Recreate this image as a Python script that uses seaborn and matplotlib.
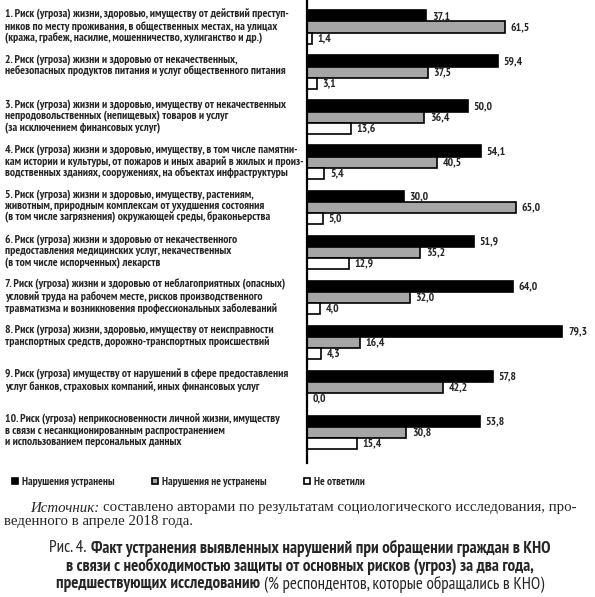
import numpy as np
import pandas as pd
import seaborn as sns
import matplotlib
matplotlib.use("Agg")
import matplotlib.pyplot as plt
import matplotlib.transforms as mtransforms
from matplotlib.font_manager import fontManager
from matplotlib.ft2font import FT2Font

categories = [
    "1. Риск (угроза) жизни, здоровью, имуществу от действий преступ-\nников по месту проживания, в общественных местах, на улицах\n(кража, грабеж, насилие, мошенничество, хулиганство и др.)",
    "2. Риск (угроза) жизни и здоровью от некачественных,\nнебезопасных продуктов питания и услуг общественного питания",
    "3. Риск (угроза) жизни и здоровью, имуществу от некачественных\nнепродовольственных (непищевых) товаров и услуг\n(за исключением финансовых услуг)",
    "4. Риск (угроза) жизни и здоровью, имуществу, в том числе памятни-\nкам истории и культуры, от пожаров и иных аварий в жилых и произ-\nводственных зданиях, сооружениях, на объектах инфраструктуры",
    "5. Риск (угроза) жизни и здоровью, имуществу, растениям,\nживотным, природным комплексам от ухудшения состояния\n(в том числе загрязнения) окружающей среды, браконьерства",
    "6. Риск (угроза) жизни и здоровью от некачественного\nпредоставления медицинских услуг, некачественных\n(в том числе испорченных) лекарств",
    "7. Риск (угроза) жизни и здоровью от неблагоприятных (опасных)\nусловий труда на рабочем месте, рисков производственного\nтравматизма и возникновения профессиональных заболеваний",
    "8. Риск (угроза) жизни, здоровью, имуществу от неисправности\nтранспортных средств, дорожно-транспортных происшествий",
    "9. Риск (угроза) имуществу от нарушений в сфере предоставления\nуслуг банков, страховых компаний, иных финансовых услуг",
    "10. Риск (угроза) неприкосновенности личной жизни, имуществу\nв связи с несанкционированным распространением\nи использованием персональных данных",
]
series_names = ["Нарушения устранены", "Нарушения не устранены", "Не ответили"]
fixed = [37.1, 59.4, 50.0, 54.1, 30.0, 51.9, 64.0, 79.3, 57.8, 53.8]
not_fixed = [61.5, 37.5, 36.4, 40.5, 65.0, 35.2, 32.0, 16.4, 42.2, 30.8]
no_answer = [1.4, 3.1, 13.6, 5.4, 5.0, 12.9, 4.0, 4.3, 0.0, 15.4]
colors = ["#000000", "#a6a6a6", "#ffffff"]

source_italic = "Источник:"
source_line1 = "составлено авторами по результатам социологического исследования, про-"
source_line2 = "веденного в апреле 2018 года."
caption_lines = [
    [("Рис. 4.", "normal"), ("Факт устранения выявленных нарушений при обращении граждан в КНО", "bold")],
    [("в связи с необходимостью защиты от основных рисков (угроз) за два года,", "bold")],
    [("предшествующих исследованию", "bold"), ("(% респондентов, которые обращались в КНО)", "normal")],
]

sns.set_style("white")


def has_cyrillic(name, stretch):
    for f in fontManager.ttflist:
        if f.name == name and (stretch is None or str(f.stretch) == stretch):
            try:
                cm = FT2Font(f.fname).get_charmap()
                if ord("Ж") in cm and ord("ы") in cm:
                    return True
            except Exception:
                pass
    return False


candidates = [("PT Sans Narrow", None), ("Roboto Condensed", None),
              ("Liberation Sans Narrow", None), ("Open Sans", "condensed"),
              ("DejaVu Sans", "condensed")]
NARROW, STRETCH = "DejaVu Sans", "condensed"
for nm, st in candidates:
    if has_cyrillic(nm, st):
        NARROW, STRETCH = nm, (st or "normal")
        break
SANS = [NARROW, "DejaVu Sans"]
SERIF = ["Liberation Serif", "DejaVu Serif"]
plt.rcParams["font.family"] = SANS

W, H = 595, 597
fig = plt.figure(figsize=(W / 100, H / 100), dpi=100)
renderer = fig.canvas.get_renderer()


def fit_size(text, target_px, base=8.0, **kw):
    t = fig.text(0, 0, text, fontsize=base, **kw)
    w = t.get_window_extent(renderer).width
    t.remove()
    return base * target_px / w


cat_fs = fit_size("9. Риск (угроза) имуществу от нарушений в сфере предоставления", 287,
                  family=SANS, fontweight="bold", fontstretch=STRETCH)
val_fs = fit_size("37,1", 18, family=SANS, fontweight="bold", fontstretch=STRETCH)
leg_fs = fit_size("Нарушения устранены", 94, family=SANS, fontweight="bold", fontstretch=STRETCH)

ax = fig.add_axes([307 / W, 1 - 463 / H, (W - 307) / W, 463 / H])

df = pd.DataFrame({
    "category": categories * 3,
    "series": sum([[s] * len(categories) for s in series_names], []),
    "value": fixed + not_fixed + no_answer,
})

sns.barplot(data=df, x="value", y="category", hue="series", orient="h",
            order=categories, hue_order=series_names, palette=colors,
            saturation=1, width=0.74, edgecolor="black", linewidth=1.2,
            legend=False, ax=ax, errorbar=None)

for cont, vals in zip(ax.containers, [fixed, not_fixed, no_answer]):
    labs = [f"{v:.1f}".replace(".", ",") for v in vals]
    ax.bar_label(cont, labels=labs, padding=4, fontsize=val_fs, fontweight="bold",
                 family=SANS, fontstretch=STRETCH)

ax.set_xlim(0, (W - 307) / 3.22)
ax.set_ylim(9.68, -0.6)
ax.set_xlabel("")
ax.set_ylabel("")
ax.set_xticks([])
ax.set_yticks([])
for s in ["top", "right", "bottom"]:
    ax.spines[s].set_visible(False)
ax.spines["left"].set_linewidth(1.6)
ax.spines["left"].set_color("black")

trans = mtransforms.blended_transform_factory(fig.transFigure, ax.transData)
for i, lab in enumerate(categories):
    ax.text(5 / W, i - 0.41, lab, transform=trans, ha="left", va="top",
            fontsize=cat_fs, fontweight="bold", linespacing=1.12, family=SANS,
            fontstretch=STRETCH)

leg_px = leg_fs * 100 / 72
handles = [cont.patches[0] for cont in ax.containers]
fig.legend(handles, series_names, ncol=3, loc="center left",
           bbox_to_anchor=(12 / W, 1 - 482 / H), frameon=False,
           handlelength=5.5 / leg_px, handleheight=5.5 / leg_px,
           handletextpad=4 / leg_px, columnspacing=38 / leg_px,
           borderaxespad=0, borderpad=0,
           prop={"family": SANS, "size": leg_fs, "weight": "bold", "stretch": STRETCH})


def place_line(pieces, y_px, x_px=None, center_px=None, size=10, family=SANS, stretch="normal"):
    texts = []
    for s, weight, style in pieces:
        t = fig.text(0, 1 - y_px / H, s, va="center", ha="left", fontsize=size,
                     fontweight=weight, fontstyle=style, family=family, fontstretch=stretch)
        texts.append(t)
    widths = [t.get_window_extent(renderer).width for t in texts]
    gap = size * 100 / 72 * 0.26
    total = sum(widths) + gap * (len(texts) - 1)
    cur = center_px - total / 2 if center_px is not None else x_px
    for t, w in zip(texts, widths):
        t.set_x(cur / W)
        cur += w + gap
    return total


src_fs = fit_size(source_italic + " " + source_line1, 545, family=SERIF)
place_line([(source_italic, "normal", "italic"), (source_line1, "normal", "normal")],
           508, x_px=30, size=src_fs, family=SERIF)
place_line([(source_line2, "normal", "normal")], 522, x_px=4, size=src_fs, family=SERIF)

cap_fs = fit_size("Факт устранения выявленных нарушений при обращении граждан в КНО", 462,
                  family=SANS, fontweight="bold", fontstretch=STRETCH)
for k, line in enumerate(caption_lines):
    place_line([(s, w, "normal") for s, w in line], 548 + 18 * k,
               center_px=300, size=cap_fs, family=SANS, stretch=STRETCH)

fig.savefig("out.png", dpi=100)
